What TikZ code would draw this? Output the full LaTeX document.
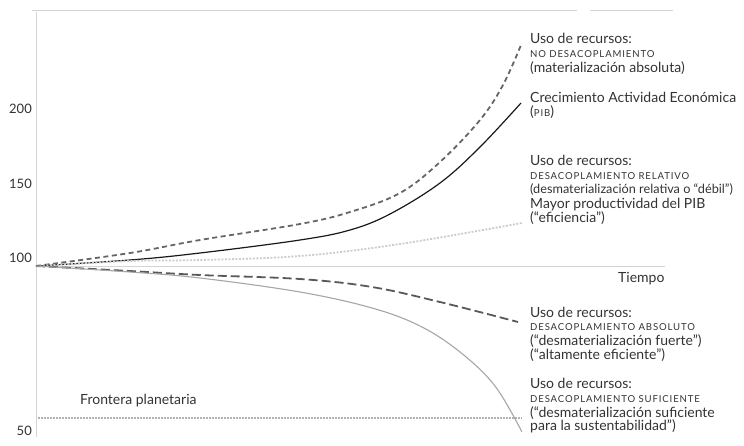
\documentclass[tikz,border=0pt]{standalone}
\usepackage{fontspec}
\setmainfont{Lato}
\newfontfamily\scfont[LetterSpace=9]{Lato}
\definecolor{txt}{HTML}{333333}
\definecolor{axisc}{HTML}{D4D4D4}
\begin{document}
\begin{tikzpicture}[x=1pt,y=-1pt,
  lbl/.style={anchor=base west, inner sep=0pt, text=txt, font=\fontsize{14}{16}\selectfont},
  sclbl/.style={anchor=base west, inner sep=0pt, text=txt, font=\scfont\fontsize{9.6}{10}\selectfont},
  ylbl/.style={anchor=base east, inner sep=0pt, text=txt, font=\fontsize{13}{15}\selectfont},
  axisline/.style={draw=axisc, line width=0.9pt},
  nodec/.style={draw=black!60, line width=1.8pt, dash pattern=on 5pt off 3.5pt},
  pibc/.style={draw=black!90, line width=1.2pt},
  relc/.style={draw=black!20, line width=1.8pt, dash pattern=on 2pt off 1.5pt},
  absc/.style={draw=black!65, line width=1.8pt, dash pattern=on 9pt off 4pt},
  sufc/.style={draw=black!35, line width=1.1pt},
  fronc/.style={draw=black!30, line width=1.5pt, dash pattern=on 1.5pt off 1.5pt}
]
\useasboundingbox (0,0) rectangle (744,445);
% frame lines
\coordinate (tl) at (32,10.5);
\coordinate (tg1) at (577,10.5);
\coordinate (tg2) at (590,10.5);
\coordinate (tr) at (673,10.5);
\draw[axisline] (tl) -- (tg1);
\draw[axisline] (tg2) -- (tr);
\coordinate (ytop) at (36,12);
\coordinate (ybot) at (36,437);
\draw[axisline] (ytop) -- (ybot);
\coordinate (o) at (36,266);
\coordinate (xend) at (665,266);
\draw[axisline] (o) -- (xend);
% frontier
\coordinate (f1) at (38,418);
\coordinate (f2) at (522,418);
\draw[fronc] (f1) -- (f2);
% curves
\draw[nodec] plot[smooth, tension=0.6] coordinates {(36,266) (130,253) (200,240) (300,224) (350,212) (400,193) (440,162) (480,120) (503,85) (521,45)};
\draw[pibc] plot[smooth, tension=0.6] coordinates {(36,266) (130,260) (200,253) (300,240) (350,230) (390,214) (440,183) (480,147) (521,103)};
\draw[relc] plot[smooth, tension=0.6] coordinates {(36,266) (130,261) (200,260) (300,256) (400,244) (522,223)};
\draw[absc] plot[smooth, tension=0.6] coordinates {(36,266) (130,271) (200,275) (300,279) (372,287) (440,302) (518,322)};
\draw[sufc] plot[smooth, tension=0.6] coordinates {(36,266) (130,272) (200,278) (300,292) (372,308) (420,326) (460,352) (495,386) (522,432)};
% y labels
\node[ylbl] (y200) at (32,113) {200};
\node[ylbl] (y150) at (32,188) {150};
\node[ylbl] (y100) at (32,262) {100};
\node[ylbl] (y50) at (32,435) {50};
\node[lbl] (tiempo) at (618,282) {Tiempo};
\node[lbl] (fron) at (80,404) {Frontera planetaria};
% group 1
\node[lbl] (a1) at (530,43) {Uso de recursos:};
\node[sclbl] (a2) at (530,57) {NO DESACOPLAMIENTO};
\node[lbl] (a3) at (530,72) {(materialización absoluta)};
% group 2
\node[lbl] (b1) at (530,102) {Crecimiento Actividad Económica};
\node[lbl] (b2) at (530,116) {({\scfont\fontsize{9.6}{10}\selectfont PIB})};
% group 3
\node[lbl] (c1) at (530,165) {Uso de recursos:};
\node[sclbl] (c2) at (530,179) {DESACOPLAMIENTO RELATIVO};
\node[lbl, font=\fontsize{12.7}{15}\selectfont] (c3) at (530,193) {(desmaterialización relativa o “débil”)};
\node[lbl] (c4) at (530,208) {Mayor productividad del PIB};
\node[lbl] (c5) at (530,222) {(“eficiencia”)};
% group 4
\node[lbl] (d1) at (530,317) {Uso de recursos:};
\node[sclbl] (d2) at (530,330) {DESACOPLAMIENTO ABSOLUTO};
\node[lbl] (d3) at (530,345) {(“desmaterialización fuerte”)};
\node[lbl] (d4) at (530,359) {(“altamente eficiente”)};
% group 5
\node[lbl] (e1) at (530,388) {Uso de recursos:};
\node[sclbl] (e2) at (530,402) {DESACOPLAMIENTO SUFICIENTE};
\node[lbl] (e3) at (530,417) {(“desmaterialización suficiente};
\node[lbl] (e4) at (530,430) {para la sustentabilidad”)};
\end{tikzpicture}
\end{document}
